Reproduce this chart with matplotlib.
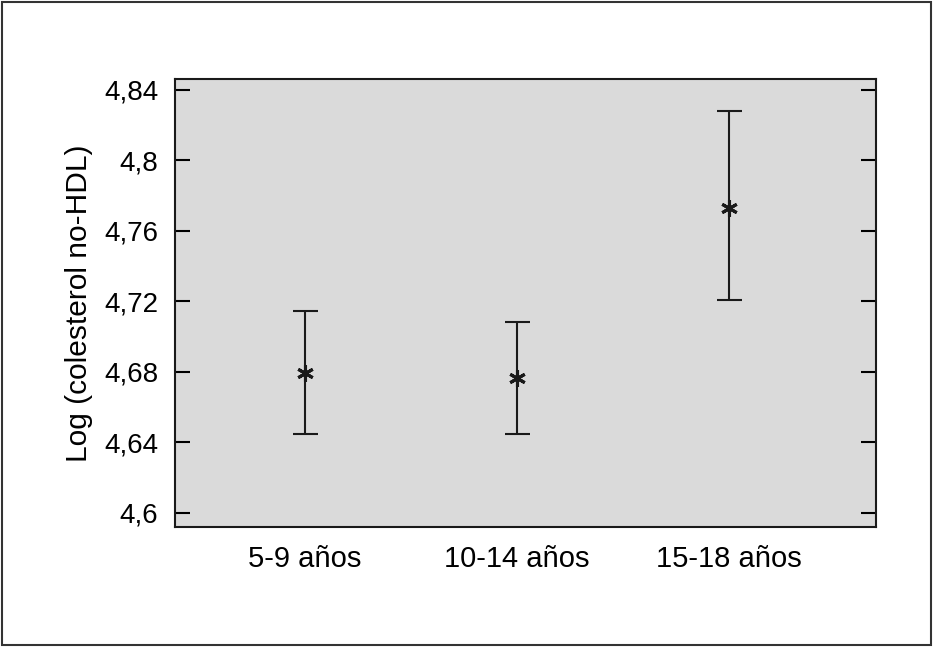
import matplotlib.pyplot as plt
from matplotlib.patches import Rectangle

plt.rcParams['font.family'] = ['Liberation Sans', 'DejaVu Sans']

# data
groups = ['5-9 años', '10-14 años', '15-18 años']
mean = [4.6794, 4.6766, 4.7730]
upper = [4.7146, 4.7084, 4.8281]
lower = [4.6448, 4.6448, 4.7209]
yticks = [4.6, 4.64, 4.68, 4.72, 4.76, 4.8, 4.84]
yticklabels = ['4,6', '4,64', '4,68', '4,72', '4,76', '4,8', '4,84']

x = range(len(groups))
err = [[m - lo for m, lo in zip(mean, lower)], [up - m for m, up in zip(mean, upper)]]

fig = plt.figure(figsize=(9.34, 6.47), dpi=100)
ax = fig.add_axes([0.1874, 0.1855, 0.7505, 0.6924])
ax.set_facecolor('#dadada')

ax.errorbar(x, mean, yerr=err, fmt='none', ecolor='#1a1a1a', elinewidth=1.5,
            capsize=9, capthick=1.5)
ax.plot(x, mean, linestyle='none', marker=(6, 2, 0), markersize=12,
        markeredgewidth=2.2, color='#1a1a1a')

ax.set_xlim(-0.613, 2.693)
ax.set_ylim(4.592, 4.8462)
ax.set_xticks(list(x))
ax.set_xticklabels(groups, fontsize=21)
ax.set_yticks(yticks)
ax.set_yticklabels(yticklabels, fontsize=20)
ax.tick_params(axis='x', length=0, pad=13)
ax.tick_params(axis='y', direction='in', length=11, width=1.5, pad=12,
               left=True, right=True)
ax.set_ylabel('Log (colesterol no-HDL)', fontsize=21.5, labelpad=8)
for s in ax.spines.values():
    s.set_linewidth(1.5)
    s.set_color('#1a1a1a')

# outer frame
fig.patches.append(Rectangle((0.002, 0.003), 0.995, 0.994, transform=fig.transFigure,
                             fill=False, edgecolor='#333333', linewidth=1.5))

fig.savefig('out.png', dpi=100)
